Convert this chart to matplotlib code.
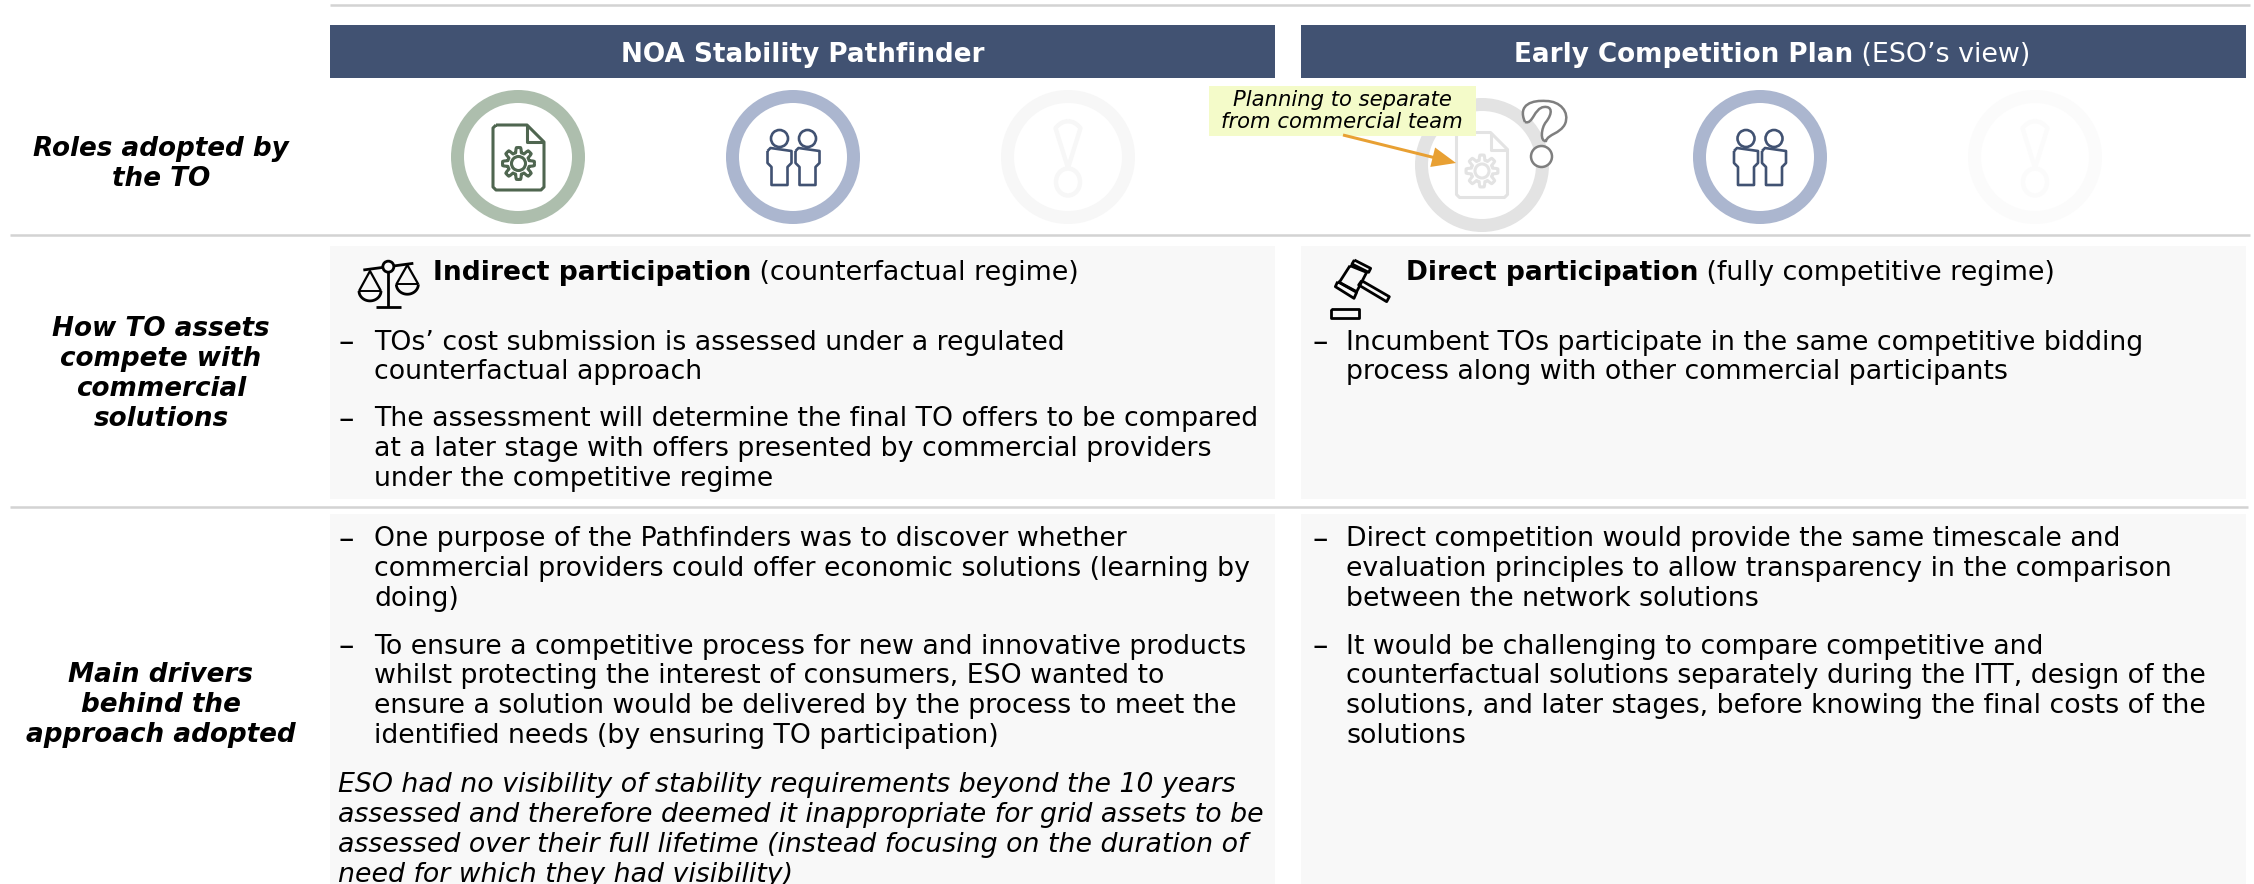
import matplotlib
matplotlib.use("Agg")
import matplotlib.pyplot as plt
from matplotlib.patches import Rectangle, Circle, FancyArrow, Ellipse, PathPatch
from matplotlib.path import Path
import numpy as np

W, H = 2254, 884
NAVY = "#415272"; GREEN = "#ADBEAD"; BLUE = "#ABB6CF"; GHOST = "#F7F7F7"; GHOST2 = "#FBFBFB"; GREY = "#E3E3E3"
CELL = "#F8F8F8"; RULE = "#D3D3D3"
FS = 19.25; FSB = 18.9; FSN = 19.25; DY = 1.5

col_headers = ["NOA Stability Pathfinder", "Early Competition Plan"]
col_header_suffix = " (ESO\u2019s view)"
row_labels = [
    (["Roles adopted by", "the TO"], [147, 177]),
    (["How TO assets", "compete with", "commercial", "solutions"], [328, 358, 388, 418]),
    (["Main drivers", "behind the", "approach adopted"], [674, 703, 733]),
]
subheads = [("Indirect participation", " (counterfactual regime)", 433),
            ("Direct participation", " (fully competitive regime)", 1406)]
bullets = [
    (339, 374, 341, ["TOs\u2019 cost submission is assessed under a regulated", "counterfactual approach"]),
    (339, 374, 418, ["The assessment will determine the final TO offers to be compared",
                     "at a later stage with offers presented by commercial providers",
                     "under the competitive regime"]),
    (1312, 1346, 341, ["Incumbent TOs participate in the same competitive bidding",
                       "process along with other commercial participants"]),
    (339, 374, 538, ["One purpose of the Pathfinders was to discover whether",
                     "commercial providers could offer economic solutions (learning by",
                     "doing)"]),
    (339, 374, 645, ["To ensure a competitive process for new and innovative products",
                     "whilst protecting the interest of consumers, ESO wanted to",
                     "ensure a solution would be delivered by the process to meet the",
                     "identified needs (by ensuring TO participation)"]),
    (1312, 1346, 538, ["Direct competition would provide the same timescale and",
                       "evaluation principles to allow transparency in the comparison",
                       "between the network solutions"]),
    (1312, 1346, 645, ["It would be challenging to compare competitive and",
                       "counterfactual solutions separately during the ITT, design of the",
                       "solutions, and later stages, before knowing the final costs of the",
                       "solutions"]),
]
italic_note = ["ESO had no visibility of stability requirements beyond the 10 years",
               "assessed and therefore deemed it inappropriate for grid assets to be",
               "assessed over their full lifetime (instead focusing on the duration of",
               "need for which they had visibility)"]
callout = ["Planning to separate", "from commercial team"]

plt.rcParams['font.family'] = ['DejaVu Sans']
fig = plt.figure(figsize=(W/100, H/100), dpi=100, facecolor="white")
ax = fig.add_axes([0, 0, 1, 1])
ax.set_xlim(0, W); ax.set_ylim(H, 0); ax.axis("off")

def rect(x0, y0, x1, y1, c, z=1):
    ax.add_patch(Rectangle((x0, y0), x1-x0, y1-y0, fc=c, ec="none", zorder=z))
def line(xs, ys, c="k", lw=2, z=5):
    ax.plot(xs, ys, color=c, lw=lw, zorder=z, solid_capstyle="butt", solid_joinstyle="round")
def ring(cx, cy, c, r=67, w=13, z=3):
    ax.add_patch(Circle((cx, cy), r-w/2, fc="none", ec=c, lw=w*0.72, zorder=z))

# rules
for x0, x1, y in [(330, 2250, 5), (10, 2250, 235), (10, 2248, 507)]:
    line([x0, x1], [y, y], RULE, 1.8, 2)

# header bars and cells
for x0, x1 in [(330, 1275), (1301, 2246)]:
    rect(x0, 25, x1, 78, NAVY)
    rect(x0, 246, x1, 499, CELL)
    rect(x0, 514, x1, H, CELL)
HY = 52 + DY + 1
ax.text(802.5, HY, col_headers[0], color="white", weight="bold", fontsize=FSB, ha="center", va="center", zorder=6)
t = ax.text(1514, HY, col_headers[1], color="white", weight="bold", fontsize=FSB, ha="left", va="center", zorder=6)
fig.canvas.draw()
ax.text(t.get_window_extent().x1, HY, col_header_suffix, color="white", fontsize=FSN+0.15, ha="left", va="center", zorder=6)

# row labels
for lines, ys in row_labels:
    for s, y in zip(lines, ys):
        ax.text(161, y+DY, s, weight="bold", style="italic", fontsize=FSB, ha="center", va="center", color="black")

# subheads
for b, rest, x in subheads:
    t = ax.text(x, 271+DY, b, weight="bold", fontsize=19.1, va="center", ha="left", color="black", zorder=6)
    fig.canvas.draw()
    ax.text(t.get_window_extent().x1, 271+DY, rest, fontsize=FS+0.1, va="center", ha="left", color="black", zorder=6)

# bullets
for dx, tx, y0, lines in bullets:
    ax.text(dx, y0+DY, "\u2013", fontsize=FS+3, va="center", ha="left", color="black", zorder=6)
    for i, s in enumerate(lines):
        ax.text(tx, y0 + DY + i*29.9, s, fontsize=FS, va="center", ha="left", color="black", zorder=6)
for i, s in enumerate(italic_note):
    ax.text(338, 783 + DY + i*30, s, fontsize=FS, style="italic", va="center", ha="left", color="black", zorder=6, clip_on=True)

# rings
for cx, cy, c in [(518, 157, GREEN), (793, 157, BLUE), (1068, 157, GHOST),
                  (1482, 165, GREY), (1760, 157, BLUE), (2035, 157, GHOST2)]:
    ring(cx, cy, c)

def doc_icon(cx, cy, c, lw):
    x0, x1, y0, y1 = cx-25.5, cx+25.5, cy-32.5, cy+32.5
    p = [(x0+3, y0), (x1-17, y0), (x1, y0+17), (x1, y1-3), (x1-3, y1), (x0+3, y1), (x0, y1-3), (x0, y0+3), (x0+3, y0)]
    xs, ys = zip(*p)
    line(xs, ys, c, lw, 6)
    line([x1-17, x1-17, x1], [y0, y0+17, y0+17], c, lw, 6)
    ang = np.linspace(0, 2*np.pi, 145)
    rad = 13.5 + 2.5*np.clip(2.5*np.cos(8*ang), -1, 1)
    line(cx + rad*np.cos(ang), cy+6 + rad*np.sin(ang), c, lw, 6)
    ax.add_patch(Circle((cx, cy+6), 7, fc="none", ec=c, lw=lw, zorder=6))

def people_icon(cx, cy, c=NAVY, lw=1.9):
    for d in (-14, 14):
        ax.add_patch(Ellipse((cx+d, cy-18.5), 17, 17, fc="none", ec=c, lw=lw, zorder=6))
        xs = [d-12, d-12, d-8, d-8, d+8, d+8, d+12, d+12, d-9, d-12]
        ys = [-6, 6, 10, 28, 28, 10, 6, -6, -9, -6]
        line(cx+np.array(xs), cy+np.array(ys), c, lw, 6)

def excl_icon(cx, cy, c, lw=3.2):
    u = np.linspace(0, 1, 40)
    half = 12.5*np.sqrt(np.clip(u/0.15, 0, 1))*np.where(u < 0.15, 1, 1-(u-0.15)/0.85)
    yy = cy-36 + u*47
    line(np.r_[cx-half, (cx+half)[::-1], cx-half[0]], np.r_[yy, yy[::-1], yy[0]], c, lw, 6)
    ax.add_patch(Ellipse((cx, cy+25), 24, 27, fc="none", ec=c, lw=lw, zorder=6))

doc_icon(518.5, 157.5, "#4F6650", 2.2)
doc_icon(1482, 165, GREY, 2.2)
people_icon(793.5, 157)
people_icon(1760, 157)
excl_icon(1068, 157, GHOST)
excl_icon(2035, 157, GHOST2)

# question mark
qm = Path([(1525, 122), (1517, 104), (1533, 100), (1546, 101), (1560, 101), (1570, 112), (1565, 124),
           (1560, 134), (1548, 134), (1546, 141), (1540, 142), (1541, 128), (1546, 122),
           (1553, 113), (1552, 106), (1544, 107), (1534, 108), (1533, 125), (1525, 122)],
          [Path.MOVETO] + [Path.CURVE4]*18)
ax.add_patch(PathPatch(qm, fc="white", ec="#7F7F7F", lw=1.8, zorder=7))
ax.add_patch(Ellipse((1541.5, 156.5), 21, 21, fc="white", ec="#7F7F7F", lw=1.8, zorder=7))

# callout
rect(1209, 86, 1476, 136, "#F4FBC9", 8)
for s, y in zip(callout, [100, 122.5]):
    ax.text(1342, y, s, fontsize=15.2, style="italic", ha="center", va="center", color="black", zorder=9)
ax.add_patch(FancyArrow(1343, 135, 113, 28, width=3, head_width=20, head_length=24,
                        length_includes_head=True, fc="#E8A033", ec="none", zorder=10))

# scales icon (drawn in a 3x local frame, offset at 320,235)
def zx(x, ox): return ox + np.asarray(x, float)/3
def zy(y): return 235 + np.asarray(y, float)/3
def scales(lw=2):
    ox = 320
    line(zx([130, 280], ox), zy([105, 85]), "k", lw)
    line(zx([205, 205], ox), zy([112, 215]), "k", lw)
    line(zx([167, 242], ox), zy([215, 215]), "k", lw)
    ax.add_patch(Circle((zx(205, ox), zy(95)), 5.5, fc=CELL, ec="k", lw=lw, zorder=6))
    for ax_, ay, by, rb in [(150, 108, 168, 33), (262, 90, 148, 33)]:
        line(zx([ax_-rb, ax_, ax_+rb], ox), zy([by, ay, by]), "k", 1.6)
        th = np.linspace(0, np.pi, 30)
        line(zx(ax_+rb*np.cos(th), ox), zy(by+rb*0.9*np.sin(th)), "k", lw)
        line(zx([ax_-rb, ax_+rb], ox), zy([by, by]), "k", 1.4)
scales()

# gavel icon (3x local frame, offset at 1300,235)
def gavel(lw=2):
    ox = 1300
    for q in [[(163, 75), (212, 100), (206, 112), (156, 87)],
              [(113, 140), (170, 172), (162, 190), (106, 155)],
              [(150, 92), (200, 112), (170, 170), (118, 142)],
              [(185, 137), (268, 185), (260, 200), (176, 150)],
              [(93, 222), (178, 222), (178, 248), (93, 248)]]:
        xs, ys = zip(*(q + q[:1]))
        line(zx(xs, ox), zy(ys), "k", lw)
gavel()

fig.savefig("out.png", dpi=100)
